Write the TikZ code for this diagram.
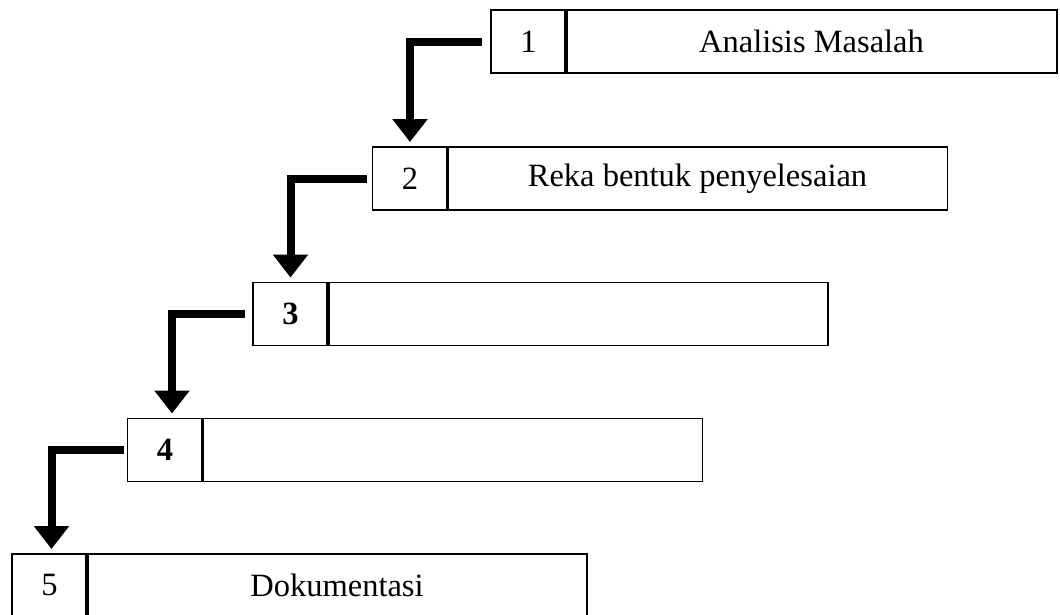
\documentclass[tikz,border=0pt]{standalone}
\usepackage{fontspec}
\setmainfont{Liberation Serif}
\usetikzlibrary{positioning,arrows.meta}
\tikzset{
    every node/.style={draw, line width=1.6pt, minimum height=63pt,
    	inner sep=0pt, outer sep=0pt, font=\fontsize{32.5}{38}\selectfont}
}
\tikzset{
    numcell/.style={minimum width=75pt},
    textcell/.style={minimum width=500pt},
    divider/.style={line width=3.6pt}
}
\tikzset{
    every edge/.append style={line width=8pt, -{Triangle[width=34pt,length=23pt]},
    	to path={-| (\tikztotarget)}}
}

\begin{document}
\begin{tikzpicture}[x=1pt, y=-1pt]
  \path[use as bounding box, clip] (0,0) rectangle (1060,614);

  \node (n1) [numcell] at (528.5,41.5) {1};
  \node (t1) [textcell, minimum width=491pt, right=0pt of n1] {Analisis Masalah};
  \node (n2) [numcell] at (410,178.5) {2};
  \node (t2) [textcell, right=0pt of n2] {Reka bentuk penyelesaian};
  \node (n3) [numcell] at (290.5,314) {\textbf{3}};
  \node (t3) [textcell, right=0pt of n3] {};
  \node (n4) [numcell] at (165,450) {\textbf{4}};
  \node (t4) [textcell, right=0pt of n4] {};
  \node (n5) [numcell] at (49.5,585.5) {5};
  \node (t5) [textcell, right=0pt of n5] {Dokumentasi};

  \foreach \i in {1,...,5}
    \draw [divider] (n\i.north east) -- (n\i.south east);

  \draw ([xshift=-9pt]n1.west) edge ([yshift=5pt]n2.north);
  \draw ([xshift=-6pt]n2.west) edge ([yshift=5pt]n3.north);
  \draw ([xshift=-8pt]n3.west) edge ([xshift=7pt,yshift=5pt]n4.north);
  \draw ([xshift=-4pt]n4.west) edge ([xshift=2pt,yshift=5pt]n5.north);
\end{tikzpicture}
\end{document}
